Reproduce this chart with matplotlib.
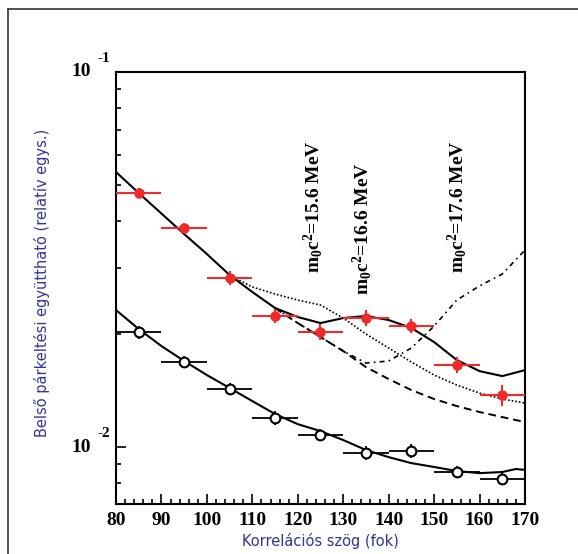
import numpy as np
import matplotlib
matplotlib.use('Agg')
import matplotlib.pyplot as plt
from matplotlib.ticker import MultipleLocator, LogLocator, NullFormatter
from matplotlib.lines import Line2D

# measured points (bin centres, +-5 deg)
angles = [85, 95, 105, 115, 125, 135, 145, 155, 165]
red_vals = [0.04757, 0.03837, 0.02822, 0.02236, 0.02026, 0.02208, 0.02102, 0.01654, 0.01376]
red_err = [0.0015, 0.0012, 0.0012, 0.0010, 0.0010, 0.0011, 0.0009, 0.0008, 0.0009]
black_vals = [0.02026, 0.01685, 0.01428, 0.01195, 0.01076, 0.00964, 0.00976, 0.00858, 0.00822]
black_err = [0.0008, 0.0006, 0.0005, 0.0005, 0.0004, 0.0004, 0.0004, 0.0003, 0.0003]

# fit / model curves
fit_x = [80, 85, 90, 95, 100, 105, 110, 115, 120, 125, 130, 135, 140, 145, 150, 155, 160, 165, 170]
fit_166 = [0.05412, 0.04757, 0.04194, 0.03698, 0.03271, 0.02875, 0.02591, 0.02348, 0.02222, 0.02141,
           0.02208, 0.02236, 0.02181, 0.02077, 0.01905, 0.01706, 0.01594, 0.01546, 0.01604]
dot_x = [105, 110, 115, 120, 125, 130, 135, 140, 145, 150, 155, 160, 165, 170]
fit_156 = [0.02875, 0.02672, 0.02559, 0.02466, 0.02391, 0.02208, 0.02002, 0.01837, 0.01685,
           0.01556, 0.01463, 0.01393, 0.01343, 0.01310]
bg_x = [115, 120, 125, 130, 135, 140, 145, 150, 155, 160, 165, 170]
fit_bg = [0.02348, 0.02141, 0.01965, 0.01803, 0.01634, 0.01518, 0.01419, 0.01343, 0.01286,
          0.01240, 0.01202, 0.01166]
fit_176 = [0.02348, 0.02141, 0.01965, 0.01803, 0.01675, 0.01696, 0.01837, 0.02102, 0.02466,
           0.02689, 0.02893, 0.03352]
low_x = [80, 85, 90, 95, 100, 105, 110, 115, 120, 125, 130, 135, 140, 145, 150, 155, 160, 165, 168, 170]
fit_low = [0.02319, 0.02064, 0.01859, 0.01696, 0.01556, 0.01437, 0.01326, 0.01225, 0.01151, 0.01103,
           0.01044, 0.00982, 0.00940, 0.00906, 0.00885, 0.00863, 0.00852, 0.00858, 0.00874, 0.00869]

labels = ['m$_\\mathbf{0}$c$^\\mathbf{2}$=15.6 MeV', 'm$_\\mathbf{0}$c$^\\mathbf{2}$=16.6 MeV',
          'm$_\\mathbf{0}$c$^\\mathbf{2}$=17.6 MeV']
label_pos = [(123.4, 0.0291), (134.1, 0.0254), (155.0, 0.0291)]

plt.rcParams['mathtext.fontset'] = 'custom'
plt.rcParams['mathtext.rm'] = 'Liberation Serif:bold'
plt.rcParams['mathtext.bf'] = 'Liberation Serif:bold'
plt.rcParams['mathtext.it'] = 'Liberation Serif:bold'

fig = plt.figure(figsize=(5.78, 5.54), dpi=100)
ax = fig.add_axes([116/578, 50/554, 409/578, 432/554])
ax.set_yscale('log')
ax.set_xlim(80, 170)
ax.set_ylim(0.00705, 0.1)

red = '#ee2a2a'
ax.plot(fit_x, fit_166, color='black', lw=1.5, zorder=3)
ax.plot(dot_x, fit_156, color='black', lw=1.2, ls=(0, (1, 1.2)), zorder=3)
ax.plot(bg_x, fit_bg, color='black', lw=1.4, ls=(0, (4, 2.5)), zorder=3)
ax.plot(bg_x, fit_176, color='black', lw=1.2, ls=(0, (3, 2.5, 1, 2.5)), zorder=3)
ax.plot(low_x, fit_low, color='black', lw=1.5, zorder=3)

ax.errorbar(angles, red_vals, xerr=5, yerr=red_err, fmt='o', color=red, ms=6.5,
            elinewidth=1.5, capsize=0, zorder=4)
ax.errorbar(angles, black_vals, xerr=5, yerr=black_err, fmt='o', color='black', mfc='white',
            mec='black', mew=1.5, ms=7, elinewidth=1.3, capsize=0, zorder=4)

for txt, (lx, ly) in zip(labels, label_pos):
    ax.text(lx, ly, txt, rotation=90, ha='center', va='bottom', fontsize=14,
            family='Liberation Serif', fontweight='bold')

ax.xaxis.set_major_locator(MultipleLocator(10))
ax.xaxis.set_minor_locator(MultipleLocator(2))
ax.yaxis.set_minor_locator(LogLocator(base=10, subs=np.arange(2, 10)))
ax.yaxis.set_major_formatter(NullFormatter())
ax.yaxis.set_minor_formatter(NullFormatter())
ax.tick_params(which='both', direction='in', top=False, right=False, width=1.2)
ax.tick_params(which='major', length=7)
ax.tick_params(which='minor', length=3.5)
ax.tick_params(axis='x', labelsize=14, pad=6)
for lab in ax.get_xticklabels():
    lab.set_family('Liberation Serif')
    lab.set_fontweight('bold')
for sp in ax.spines.values():
    sp.set_linewidth(1.5)

for val, exp in [(0.1, '-1'), (0.01, '-2')]:
    ax.annotate('10', xy=(0, val), xycoords=('axes fraction', 'data'), xytext=(-18, 0),
                textcoords='offset points', ha='right', va='center', fontsize=14,
                family='Liberation Serif', fontweight='bold')
    ax.annotate(exp, xy=(0, val), xycoords=('axes fraction', 'data'), xytext=(-13, 10),
                textcoords='offset points', ha='left', va='center', fontsize=11,
                family='Liberation Serif', fontweight='bold')

blue = '#333399'
fig.text(42/578, 1 - 283/554, 'Belső párkeltési együttható (relatív egys.)', rotation=90,
         ha='center', va='center', color=blue, fontsize=10.5, family='DejaVu Sans')
fig.text(320/578, 1 - 541/554, 'Korrelációs szög (fok)', ha='center', va='center',
         color=blue, fontsize=10.5, family='DejaVu Sans')

fig.add_artist(Line2D([8/578, 8/578], [0, 1 - 9/554], transform=fig.transFigure, color='#333333', lw=1.2))
fig.add_artist(Line2D([8/578, 1], [1 - 9/554, 1 - 9/554], transform=fig.transFigure, color='#333333', lw=1.2))

fig.savefig('out.png', dpi=100)
